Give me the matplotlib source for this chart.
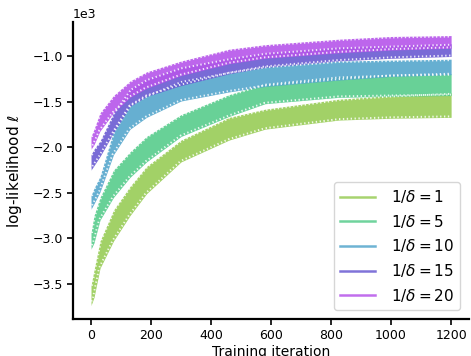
import matplotlib
matplotlib.use('Agg')
import matplotlib.pyplot as plt
import numpy as np

# checkpoints (training iteration) where the band edges were read
iters = [0, 10, 30, 75, 130, 185, 300, 460, 580, 825, 1000, 1200]

labels = [r'$1/\delta = 1$', r'$1/\delta = 5$', r'$1/\delta = 10$',
          r'$1/\delta = 15$', r'$1/\delta = 20$']
colors = ['#98cc56', '#57cc8c', '#55a6cc', '#6a5bd2', '#b655ea']

# upper / lower edge of each oscillating curve
upper_1 = [-3520, -3350, -3030, -2690, -2430, -2210, -1920, -1670, -1580, -1470, -1430, -1400]
lower_1 = [-3740, -3650, -3330, -3030, -2750, -2510, -2160, -1920, -1800, -1700, -1680, -1670]
upper_5 = [-2940, -2750, -2550, -2250, -2050, -1880, -1640, -1420, -1300, -1220, -1200, -1190]
lower_5 = [-3120, -3050, -2800, -2550, -2330, -2160, -1880, -1660, -1520, -1450, -1440, -1430]
upper_10 = [-2530, -2450, -2320, -1820, -1530, -1430, -1270, -1170, -1110, -1050, -1040, -1030]
lower_10 = [-2680, -2620, -2490, -2080, -1800, -1670, -1490, -1390, -1330, -1260, -1220, -1200]
upper_15 = [-2080, -2020, -1930, -1620, -1360, -1250, -1120, -1020, -960, -900, -880, -860]
lower_15 = [-2250, -2200, -2100, -1840, -1550, -1440, -1320, -1190, -1120, -1050, -1020, -1000]
upper_20 = [-1880, -1800, -1620, -1430, -1270, -1170, -1050, -920, -870, -810, -780, -770]
lower_20 = [-2020, -1970, -1820, -1620, -1450, -1350, -1210, -1080, -1020, -960, -930, -910]

uppers = [upper_1, upper_5, upper_10, upper_15, upper_20]
lowers = [lower_1, lower_5, lower_10, lower_15, lower_20]

fig = plt.figure(figsize=(4.71, 3.56), dpi=100)
ax = fig.add_axes([0.155, 0.104, 0.841, 0.834])

for up, lo, c, lab in zip(uppers, lowers, colors, labels):
    band = ax.fill_between(iters, lo, up, color=c, alpha=0.9, lw=0)
    clip = band.get_paths()[0]
    # white notches along the edges give the saw-tooth look of the curve
    for edge in (up, lo):
        ln, = ax.plot(iters, edge, color='white', alpha=0.85, lw=2.8,
                      ls=(0, (0.35, 0.65)), dash_capstyle='butt')
        ln.set_clip_path(clip, ax.transData)
    ax.plot([], [], color=c, alpha=0.85, lw=1.8, label=lab)

ax.set_xticks([0, 200, 400, 600, 800, 1000, 1200])
ax.set_yticks([-3500, -3000, -2500, -2000, -1500, -1000])
ax.ticklabel_format(axis='y', style='sci', scilimits=(0, 0))
ax.tick_params(labelsize=9, width=1.2, length=4)
ax.yaxis.get_offset_text().set_fontsize(9)
for s in ['top', 'right']:
    ax.spines[s].set_visible(False)
for s in ['left', 'bottom']:
    ax.spines[s].set_linewidth(1.6)

ax.set_xlabel('Training iteration', fontsize=10, labelpad=2)
ax.set_ylabel(r'log-likelihood $\ell$', fontsize=11, labelpad=6)
ax.legend(loc='lower right', fontsize=11, framealpha=0.8, borderaxespad=0.6,
          handlelength=2.3, handletextpad=1.0)

fig.savefig('out.png', dpi=100)
